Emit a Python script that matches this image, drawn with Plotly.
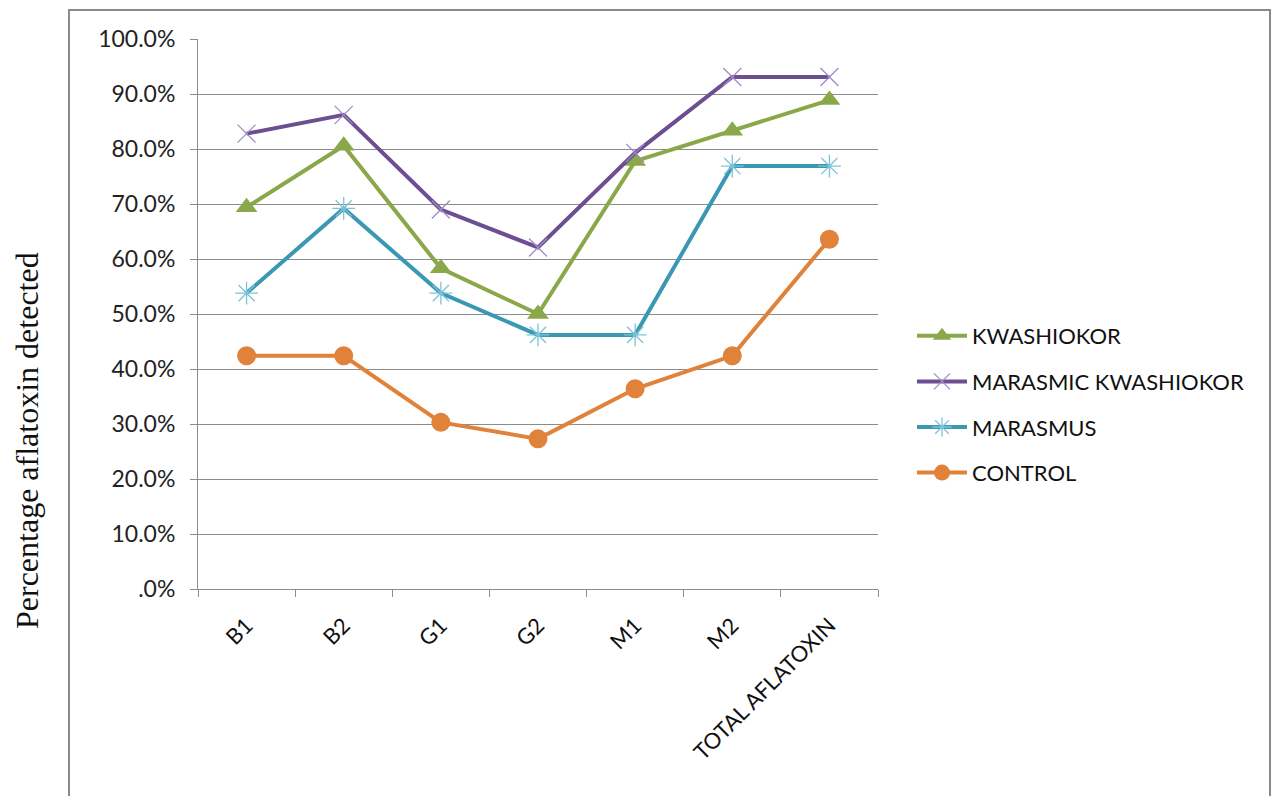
import plotly.graph_objects as go

categories = ["B1", "B2", "G1", "G2", "M1", "M2", "TOTAL AFLATOXIN"]

kwashiokor = [69.4, 80.6, 58.3, 50.0, 77.8, 83.3, 88.9]
marasmic_kwashiokor = [82.8, 86.2, 69.0, 62.1, 79.3, 93.1, 93.1]
marasmus = [53.8, 69.2, 53.8, 46.2, 46.2, 76.9, 76.9]
control = [42.4, 42.4, 30.3, 27.3, 36.4, 42.4, 63.6]

y_ticks = [0, 10, 20, 30, 40, 50, 60, 70, 80, 90, 100]
y_tick_labels = [".0%", "10.0%", "20.0%", "30.0%", "40.0%", "50.0%",
                 "60.0%", "70.0%", "80.0%", "90.0%", "100.0%"]

W, H = 1275, 796
PL, PR, PT, PB = 198, 878, 39, 589  # plot-area edges in pixels


def px_x(p):
    return (p - PL) / (PR - PL)


def px_y(p):
    return (PB - p) / (PB - PT)


series = [
    dict(name="KWASHIOKOR", y=kwashiokor, color="#8aa84a",
         marker=dict(symbol="triangle-up", size=19, color="#8aa84a")),
    dict(name="MARASMIC KWASHIOKOR", y=marasmic_kwashiokor, color="#6c4f92",
         marker=dict(symbol="x-thin", size=18, color="#a08cc4",
                     line=dict(color="#a08cc4", width=1.3))),
    dict(name="MARASMUS", y=marasmus, color="#3b98b3",
         marker=dict(symbol="asterisk", size=19, color="#7cc3d8",
                     line=dict(color="#7cc3d8", width=1.3))),
    dict(name="CONTROL", y=control, color="#e0823a",
         marker=dict(symbol="circle", size=19, color="#e0823a")),
]

fig = go.Figure()
for i, s in enumerate(series):
    fig.add_trace(go.Scatter(
        x=categories, y=s["y"], name=s["name"], mode="lines+markers",
        line=dict(color=s["color"], width=4),
        marker=s["marker"], legendgroup=f"g{i}",
    ))

fig.update_layout(
    width=W, height=H,
    margin=dict(l=PL, r=W - PR, t=PT, b=H - PB, pad=0),
    paper_bgcolor="white", plot_bgcolor="white",
    font=dict(family="Lato, Noto Sans, sans-serif", size=22, color="#222222"),
    showlegend=True,
    legend=dict(
        x=px_x(912), y=px_y(315), xanchor="left", yanchor="top",
        font=dict(size=22, color="#111111"),
        tracegroupgap=14, bgcolor="rgba(0,0,0,0)",
        itemwidth=50,
    ),
    xaxis=dict(
        type="category", tickson="boundaries", ticks="outside", ticklen=7,
        tickcolor="#8c8c8c", tickwidth=1, showgrid=False,
        showline=True, linecolor="#8c8c8c", linewidth=1,
        tickangle=-45, tickfont=dict(size=22, color="#111111"),
        ticklabelstandoff=14,
        range=[-0.5, 6.5], fixedrange=True,
    ),
    yaxis=dict(
        range=[0, 100], tickvals=y_ticks, ticktext=y_tick_labels,
        ticks="outside", ticklen=7, tickcolor="#8c8c8c",
        showgrid=True, gridcolor="#8c8c8c", gridwidth=1,
        showline=True, linecolor="#8c8c8c", linewidth=1,
        zeroline=False, tickfont=dict(size=23, color="#222222"),
        ticklabelstandoff=10,
        fixedrange=True,
    ),
    annotations=[dict(
        text="Percentage aflatoxin detected", textangle=-90,
        xref="paper", yref="paper", x=px_x(27), y=px_y(441),
        xanchor="center", yanchor="middle", showarrow=False,
        font=dict(family="Liberation Serif, Times New Roman, serif",
                  size=32, color="#111111"),
    )],
    shapes=[dict(
        type="rect", xref="paper", yref="paper",
        x0=px_x(69), x1=px_x(1270), y0=px_y(820), y1=px_y(10),
        line=dict(color="#8a8a8a", width=2), fillcolor="rgba(0,0,0,0)",
        layer="below",
    )],
)

fig.write_html("out.html", config=dict(displayModeBar=False))
